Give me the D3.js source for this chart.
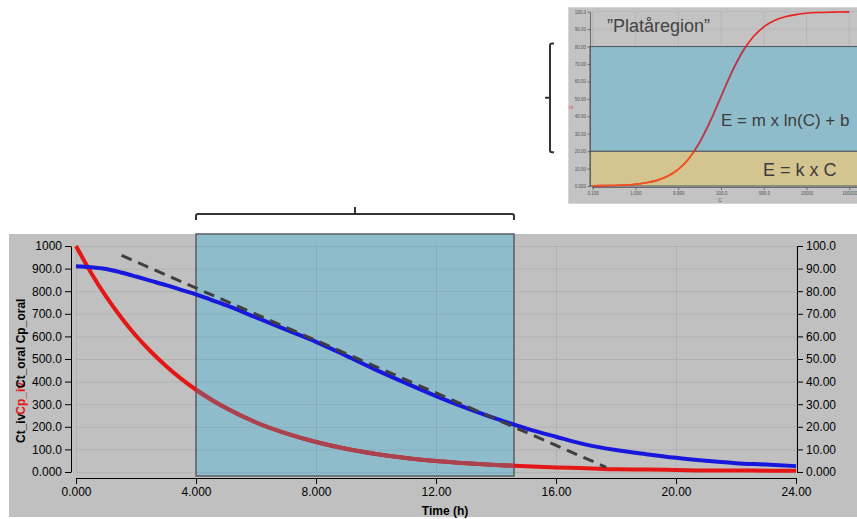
<!DOCTYPE html>
<html><head><meta charset="utf-8">
<script src="https://cdn.jsdelivr.net/npm/d3@7"></script>
<style>
body{margin:0;background:#fff}
svg{display:block}
text{font-family:"Liberation Sans",Arial,sans-serif}
</style>
</head><body>
<svg id="c" width="857" height="519"></svg>
<script>
// ---------- main chart data ----------
const times   = [0,0.5,1,1.5,2,2.5,3,3.5,4,4.5,5,6,7,8,9,10,11,12,13,14,15,16,17,18,19,20,21,22,23,24];
const cpIv    = [1000,882,777,685,603,532,469,413,364,321,283,219,171,133,103,80,62,49,39,31,25,20,17,12,11,9,7,7,6,6];
const cpOral  = [910,906,898,883,865,846,827,806,786,762,738,684,630,576,515,452,393,336,284,236,193,156,121,97,79,63,50,39,33,26];
const trendT  = [1.52, 17.67];
const trendV  = [958, 21];
const windowT = [4, 14.6];

const xTicks      = [0,4,8,12,16,20,24];
const xTickLabels = ["0.000","4.000","8.000","12.00","16.00","20.00","24.00"];
const yTicks      = [0,100,200,300,400,500,600,700,800,900,1000];
const yTickLabels = ["0.000","100.0","200.0","300.0","400.0","500.0","600.0","700.0","800.0","900.0","1000"];
const y2Ticks      = [0,10,20,30,40,50,60,70,80,90,100];
const y2TickLabels = ["0.000","10.00","20.00","30.00","40.00","50.00","60.00","70.00","80.00","90.00","100.0"];

// ---------- inset (concentration-effect) data ----------
const concC  = [0.1,0.178,0.316,0.562,1,1.78,3.16,5.62,10,17.8,31.6,56.2,100,178,316,562,1000,1778,3162,5623,10000,17783,31623,56234,100000];
const effectE = [0.1,0.19,0.33,0.59,1.04,1.84,3.22,5.59,9.5,15.8,25.0,37.2,51.3,65.2,76.9,85.5,91.3,94.9,97.1,98.3,99.1,99.5,99.7,99.8,99.9];
const insetXTicks      = [0.1,1,10,100,1000,10000,100000];
const insetXTickLabels = ["0.100","1.000","9.999","100.0","999.9","10000","100000"];
const insetYTicks      = [0,10,20,30,40,50,60,70,80,90,100];
const insetYTickLabels = ["0.000","10.00","20.00","30.00","40.00","50.00","60.00","70.00","80.00","90.00","100.0"];
const bandLimits = [0, 20, 80];
const bandColors = ["#d4c48f", "#8fbccb"];
const curveColors = ["#f2561e", "#b23e55"];

const svg = d3.select("#c");
svg.append("rect").attr("width",857).attr("height",519).attr("fill","#fff");

// ======================= MAIN CHART =======================
const x  = d3.scaleLinear().domain([0,24]).range([76,796]);
const y  = d3.scaleLinear().domain([0,1000]).range([472,246]);
const y2 = d3.scaleLinear().domain([0,100]).range([472,246]);

svg.append("rect").attr("x",9).attr("y",234).attr("width",848).attr("height",283).attr("fill","#c0c0c0");

// highlight window
const winX0 = x(windowT[0]), winX1 = x(windowT[1]);
svg.append("rect").attr("x",winX0).attr("y",234).attr("width",winX1-winX0).attr("height",242)
  .attr("fill","#8fbccb");

// grid
const grid = svg.append("g").attr("stroke","rgba(0,0,0,0.07)").attr("stroke-width",1);
grid.selectAll("line.h").data(yTicks).join("line").attr("class","h")
  .attr("x1",x(0)).attr("x2",x(24)).attr("y1",d=>y(d)+0.5).attr("y2",d=>y(d)+0.5);
grid.selectAll("line.v").data(xTicks).join("line").attr("class","v")
  .attr("y1",y(1000)).attr("y2",y(0)).attr("x1",d=>x(d)+0.5).attr("x2",d=>x(d)+0.5);

// window border
svg.append("rect").attr("x",winX0).attr("y",234).attr("width",winX1-winX0).attr("height",242)
  .attr("fill","none").attr("stroke","#5a5e60").attr("stroke-width",1.5);

const line = d3.line().x(d=>x(d[0])).y(d=>y(d[1])).curve(d3.curveMonotoneX);
const redData  = times.map((t,i)=>[t,cpIv[i]]);
const blueData = times.map((t,i)=>[t,cpOral[i]]);

svg.append("clipPath").attr("id","winClip").append("rect")
  .attr("x",winX0).attr("y",234).attr("width",winX1-winX0).attr("height",242);

svg.append("path").datum(redData).attr("d",line).attr("fill","none")
  .attr("stroke","#e41616").attr("stroke-width",4).attr("stroke-linejoin","round");
svg.append("path").datum(redData).attr("d",line).attr("fill","none").attr("clip-path","url(#winClip)")
  .attr("stroke","#a8434f").attr("stroke-width",4).attr("stroke-linejoin","round");
svg.append("path").datum(blueData).attr("d",line).attr("fill","none")
  .attr("stroke","#1818dc").attr("stroke-width",4).attr("stroke-linejoin","round");
svg.append("path").datum(trendT.map((t,i)=>[t,trendV[i]])).attr("d",d3.line().x(d=>x(d[0])).y(d=>y(d[1])))
  .attr("fill","none").attr("stroke","#3f3f3f").attr("stroke-width",3).attr("stroke-dasharray","11,7");

// axes
function styleAxis(g, size){
  g.selectAll("text").attr("font-size",size).attr("font-family","'Liberation Sans',Arial,sans-serif").attr("fill","#000");
  g.selectAll("path,line").attr("stroke","#000");
}
const axL = svg.append("g").attr("transform","translate(71,0)")
  .call(d3.axisLeft(y).tickValues(yTicks).tickFormat((d,i)=>yTickLabels[i]).tickSize(6).tickSizeOuter(0));
styleAxis(axL,12);
const axR = svg.append("g").attr("transform","translate(797,0)")
  .call(d3.axisRight(y2).tickValues(y2Ticks).tickFormat((d,i)=>y2TickLabels[i]).tickSize(6).tickSizeOuter(0));
styleAxis(axR,12);
const axB = svg.append("g").attr("transform","translate(0,478)")
  .call(d3.axisBottom(x).tickValues(xTicks).tickFormat((d,i)=>xTickLabels[i]).tickSize(6).tickSizeOuter(0));
styleAxis(axB,12);

svg.append("text").attr("x",445).attr("y",515).attr("text-anchor","middle")
  .attr("font-size",12).attr("font-weight","bold").text("Time (h)");

const yl = svg.append("text").attr("transform","translate(24.5,443) rotate(-90)")
  .attr("font-size",12).attr("font-weight","bold");
yl.append("tspan").attr("fill","#000").text("Ct_iv");
yl.append("tspan").attr("fill","#e41616").attr("dx",-1).text("Cp_iv");
yl.append("tspan").attr("fill","#000").attr("dx",-6).text("Ct_oral Cp_oral");

// bracket over the window
const bY = 214, xm = (winX0+winX1)/2;
svg.append("path").attr("fill","none").attr("stroke","#333").attr("stroke-width",2)
  .attr("d",`M${winX0},220 V216 Q${winX0},${bY} ${winX0+2},${bY} H${winX1-2} Q${winX1},${bY} ${winX1},216 V220 M${xm},${bY} V207`);

// ======================= INSET =======================
const xi = d3.scaleLog().domain([0.1,100000]).range([592.7,849.3]);
const yi = d3.scaleLinear().domain([0,100]).range([186,11.7]);

svg.append("rect").attr("x",568.5).attr("y",7.5).attr("width",295).attr("height",196)
  .attr("fill","#c3c3c3").attr("stroke","#d6d6d6").attr("stroke-width",1);

const ig = svg.append("g").attr("stroke","rgba(0,0,0,0.06)");
ig.selectAll("line.h").data(insetYTicks).join("line").attr("class","h")
  .attr("x1",590).attr("x2",857).attr("y1",d=>yi(d)).attr("y2",d=>yi(d));
ig.selectAll("line.v").data(insetXTicks).join("line").attr("class","v")
  .attr("x1",d=>xi(d)).attr("x2",d=>xi(d)).attr("y1",yi(100)).attr("y2",yi(0));

// bands
const bandG = svg.append("g");
for (let i=0;i<bandColors.length;i++){
  const top = yi(bandLimits[i+1]), bot = yi(bandLimits[i]);
  bandG.append("rect").attr("x",590).attr("y",top).attr("width",280).attr("height",bot-top)
    .attr("fill",bandColors[i]).attr("stroke","#50575a").attr("stroke-width",1);
  svg.append("clipPath").attr("id","band"+i).append("rect")
    .attr("x",590).attr("y",top).attr("width",280).attr("height",bot-top);
}

const iline = d3.line().x(d=>xi(d[0])).y(d=>yi(d[1])).curve(d3.curveMonotoneX);
const sig = concC.map((c,i)=>[c,effectE[i]]);
svg.append("path").datum(sig).attr("d",iline).attr("fill","none").attr("stroke","#ea2020").attr("stroke-width",1.6);
for (let i=0;i<bandColors.length;i++){
  svg.append("path").datum(sig).attr("d",iline).attr("fill","none").attr("clip-path",`url(#band${i})`)
    .attr("stroke",curveColors[i]).attr("stroke-width",1.6);
}

const iaxL = svg.append("g").attr("transform","translate(590,0)")
  .call(d3.axisLeft(yi).tickValues(insetYTicks).tickFormat((d,i)=>insetYTickLabels[i]).tickSize(2.5).tickSizeOuter(0).tickPadding(1.5));
iaxL.selectAll("text").attr("font-size",4.5).attr("fill","#555");
iaxL.selectAll("path,line").attr("stroke","#555").attr("stroke-width",0.8);
const iaxB = svg.append("g").attr("transform","translate(0,187.5)")
  .call(d3.axisBottom(xi).tickValues(insetXTicks).tickFormat((d,i)=>insetXTickLabels[i]).tickSize(2.5).tickSizeOuter(0).tickPadding(1.5));
iaxB.select("path").attr("d","M592,0H857");
iaxB.selectAll("text").attr("font-size",4.5).attr("fill","#555");
iaxB.selectAll("path,line").attr("stroke","#555").attr("stroke-width",0.8);
svg.append("text").attr("x",720).attr("y",202).attr("text-anchor","middle").attr("font-size",5).attr("fill","#555").text("C");
svg.append("text").attr("transform","translate(573,107) rotate(-90)").attr("text-anchor","middle")
  .attr("font-size",5).attr("fill","#e02020").text("E");

svg.append("text").attr("x",607).attr("y",32).attr("font-size",18).attr("fill","#444").text("”Platåregion”");
svg.append("text").attr("x",721).attr("y",126).attr("font-size",17).attr("fill","#3c3c3c").text("E = m x ln(C) + b");
svg.append("text").attr("x",763).attr("y",176).attr("font-size",18).attr("fill","#3c3c3c").text("E = k x C");

// bracket for the linear band
const vx = 550, vt = yi(bandLimits[2]) - 3, vb = yi(bandLimits[1]) + 1, vm = (vt+vb)/2;
svg.append("path").attr("fill","none").attr("stroke","#333").attr("stroke-width",2)
  .attr("d",`M554,${vt} H552 Q${vx},${vt} ${vx},${vt+2} V${vb-2} Q${vx},${vb} 552,${vb} H554 M${vx},${vm} H545`);
</script>
</body></html>
